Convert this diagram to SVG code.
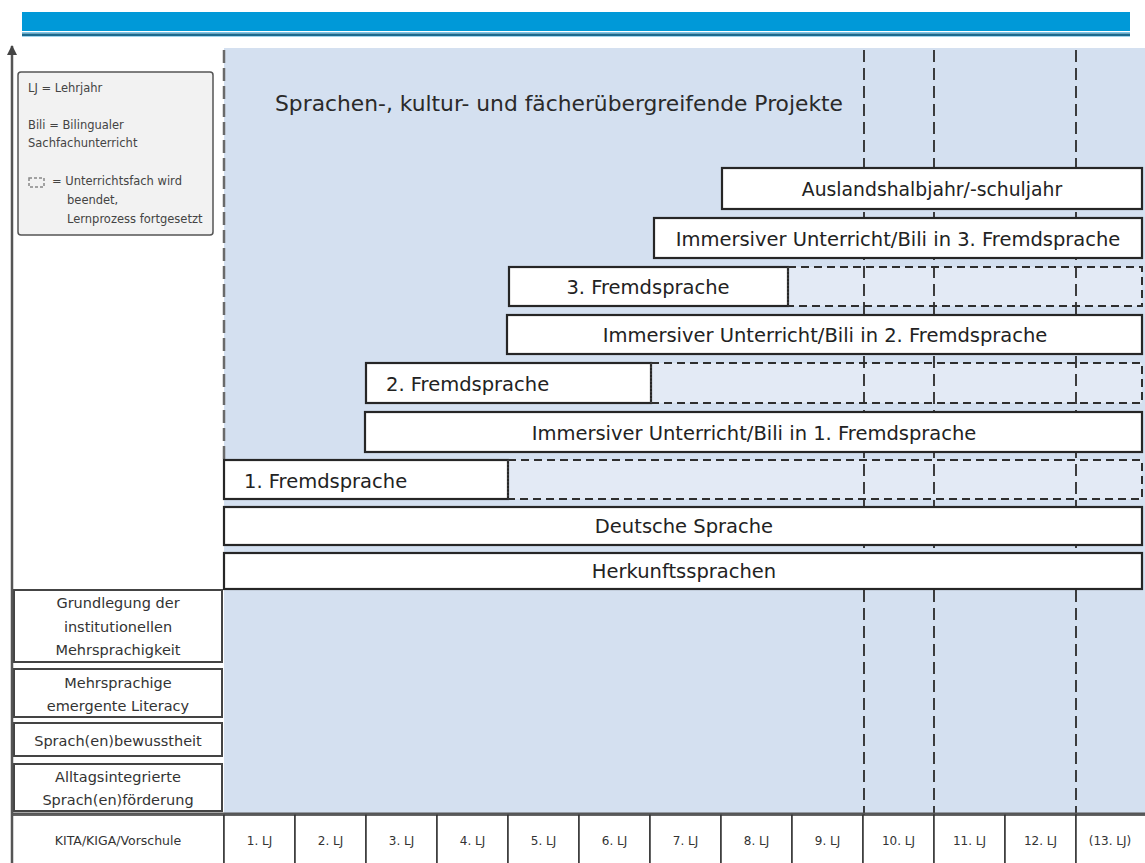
<svg xmlns="http://www.w3.org/2000/svg" width="1145" height="863" viewBox="0 0 1145 863">
<defs>
<style>
text { font-family: "DejaVu Sans", "Liberation Sans", sans-serif; }
.bar { fill:#ffffff; stroke:#262626; stroke-width:2.2; }
.cont { fill:#E3EAF5; stroke:none; }
.contb { fill:none; stroke:#2e2e2e; stroke-width:2; stroke-dasharray:8 5; }
.sep { fill:none; stroke:#555; stroke-width:1; stroke-dasharray:1.5 2; }
.lbl { font-size:19.5px; fill:#222; }
.mid { text-anchor:middle; }
.col { fill:none; stroke:#2b2b2b; stroke-width:1.8; stroke-dasharray:12 6; }
.side { fill:#ffffff; stroke:#444; stroke-width:2; }
.stxt { font-size:14.5px; fill:#333; text-anchor:middle; }
.leg { font-size:11.5px; fill:#444; }
.cell { fill:#ffffff; stroke:#333; stroke-width:1.5; }
.ctxt { font-size:12px; fill:#333; text-anchor:middle; }
</style>
<marker id="arrow" markerWidth="10" markerHeight="10" refX="9" refY="5" orient="auto" markerUnits="userSpaceOnUse">
<path d="M0,0 L10,5 L0,10 z" fill="#444"/>
</marker>
</defs>

<!-- header bar -->
<g id="header">
<rect x="22" y="12" width="1108" height="19" fill="#0099D8"/>
<rect x="22" y="32" width="1108" height="1.5" fill="#7cc7ea"/>
<rect x="22" y="33.5" width="1108" height="2.5" fill="#1c6a8e"/>
<rect x="22" y="36" width="1108" height="1" fill="#9fd3ee"/>
</g>

<!-- background area -->
<g id="background">
<rect x="224" y="48" width="921" height="767" fill="#D4E0F0"/>
</g>

<!-- continuation (dashed) fills -->
<g id="continuations-fill">
<rect class="cont" x="788" y="267" width="354" height="39"/>
<rect class="cont" x="651" y="363" width="491" height="40"/>
<rect class="cont" x="508" y="460" width="634" height="39"/>
</g>

<!-- grid lines -->
<g id="grid">
<line x1="224" y1="50" x2="224" y2="460" style="fill:none;stroke:#6a6a6a;stroke-width:2.5;stroke-dasharray:13 5"/>
<line class="col" x1="864" y1="50" x2="864" y2="815"/>
<line class="col" x1="934" y1="50" x2="934" y2="815"/>
<line class="col" x1="1076" y1="50" x2="1076" y2="815"/>
</g>

<g id="title">
<text x="275" y="111" style="font-size:21.8px;fill:#2a2a2a">Sprachen-, kultur- und fächerübergreifende Projekte</text>
</g>

<g id="legend">
<rect x="18" y="72" width="195" height="163" rx="3" fill="#F2F2F2" stroke="#555" stroke-width="1.5"/>
<text class="leg" x="28" y="92">LJ = Lehrjahr</text>
<text class="leg" x="28" y="129">Bili = Bilingualer</text>
<text class="leg" x="28" y="147">Sachfachunterricht</text>
<rect x="29" y="178" width="15" height="9" fill="none" stroke="#888" stroke-width="1.5" stroke-dasharray="3 2"/>
<text class="leg" x="52" y="185">= Unterrichtsfach wird</text>
<text class="leg" x="67" y="204">beendet,</text>
<text class="leg" x="67" y="223">Lernprozess fortgesetzt</text>
</g>

<g id="ausland">
<rect class="bar" x="722" y="168" width="420" height="41"/>
<text class="lbl mid" x="932" y="196" style="font-size:18.8px">Auslandshalbjahr/-schuljahr</text>
</g>

<g id="immersiv3">
<rect class="bar" x="654" y="218" width="488" height="40"/>
<text class="lbl mid" x="898" y="245.5">Immersiver Unterricht/Bili in 3. Fremdsprache</text>
</g>

<g id="fremdsprache3">
<rect class="bar" x="509" y="267" width="279" height="39"/>
<path class="contb" d="M788,267 H1142 V306 H788"/>
<line class="sep" x1="788" y1="267" x2="788" y2="306"/>
<text class="lbl mid" x="648" y="294">3. Fremdsprache</text>
</g>

<g id="immersiv2">
<rect class="bar" x="507" y="315" width="635" height="39"/>
<text class="lbl mid" x="825" y="342">Immersiver Unterricht/Bili in 2. Fremdsprache</text>
</g>

<g id="fremdsprache2">
<rect class="bar" x="366" y="363" width="285" height="40"/>
<path class="contb" d="M651,363 H1142 V403 H651"/>
<line class="sep" x1="651" y1="363" x2="651" y2="403"/>
<text class="lbl" x="386" y="390.5">2. Fremdsprache</text>
</g>

<g id="immersiv1">
<rect class="bar" x="365" y="412" width="777" height="40"/>
<text class="lbl mid" x="754" y="439.5">Immersiver Unterricht/Bili in 1. Fremdsprache</text>
</g>

<g id="fremdsprache1">
<rect class="bar" x="224" y="460" width="284" height="39"/>
<path class="contb" d="M508,460 H1142 V499 H508"/>
<line class="sep" x1="508" y1="460" x2="508" y2="499"/>
<text class="lbl" x="244" y="487.5">1. Fremdsprache</text>
</g>

<g id="deutsch">
<rect class="bar" x="224" y="507" width="918" height="38"/>
<text class="lbl mid" x="684" y="533">Deutsche Sprache</text>
</g>

<g id="herkunft">
<rect class="bar" x="224" y="553" width="918" height="36"/>
<text class="lbl mid" x="684" y="578">Herkunftssprachen</text>
</g>

<g id="grundlegung">
<rect class="side" x="14" y="590" width="208" height="72"/>
<text class="stxt" x="118" y="608">Grundlegung der</text>
<text class="stxt" x="118" y="632">institutionellen</text>
<text class="stxt" x="118" y="655">Mehrsprachigkeit</text>
</g>

<g id="literacy">
<rect class="side" x="14" y="669" width="208" height="48"/>
<text class="stxt" x="118" y="688">Mehrsprachige</text>
<text class="stxt" x="118" y="711">emergente Literacy</text>
</g>

<g id="bewusstheit">
<rect class="side" x="14" y="723" width="208" height="33"/>
<text class="stxt" x="118" y="746">Sprach(en)bewusstheit</text>
</g>

<g id="foerderung">
<rect class="side" x="14" y="764" width="208" height="47"/>
<text class="stxt" x="118" y="782">Alltagsintegrierte</text>
<text class="stxt" x="118" y="805">Sprach(en)förderung</text>
</g>

<g id="timeline">
<rect class="cell" x="12" y="815" width="212" height="60"/>
<text class="ctxt" x="118" y="845" style="font-size:12.5px">KITA/KIGA/Vorschule</text>
<rect class="cell" x="224" y="815" width="71" height="60"/>
<rect class="cell" x="295" y="815" width="71" height="60"/>
<rect class="cell" x="366" y="815" width="71" height="60"/>
<rect class="cell" x="437" y="815" width="71" height="60"/>
<rect class="cell" x="508" y="815" width="71" height="60"/>
<rect class="cell" x="579" y="815" width="71" height="60"/>
<rect class="cell" x="650" y="815" width="71" height="60"/>
<rect class="cell" x="721" y="815" width="71" height="60"/>
<rect class="cell" x="792" y="815" width="71" height="60"/>
<rect class="cell" x="863" y="815" width="71" height="60"/>
<rect class="cell" x="934" y="815" width="71" height="60"/>
<rect class="cell" x="1005" y="815" width="71" height="60"/>
<rect class="cell" x="1076" y="815" width="71" height="60"/>
<line x1="12" y1="813.5" x2="1145" y2="813.5" stroke="#555" stroke-width="2"/>
<text class="ctxt" x="259.5" y="845">1. LJ</text>
<text class="ctxt" x="330.5" y="845">2. LJ</text>
<text class="ctxt" x="401.5" y="845">3. LJ</text>
<text class="ctxt" x="472.5" y="845">4. LJ</text>
<text class="ctxt" x="543.5" y="845">5. LJ</text>
<text class="ctxt" x="614.5" y="845">6. LJ</text>
<text class="ctxt" x="685.5" y="845">7. LJ</text>
<text class="ctxt" x="756.5" y="845">8. LJ</text>
<text class="ctxt" x="827.5" y="845">9. LJ</text>
<text class="ctxt" x="898.5" y="845">10. LJ</text>
<text class="ctxt" x="969.5" y="845">11. LJ</text>
<text class="ctxt" x="1040.5" y="845">12. LJ</text>
<text class="ctxt" x="1110" y="845">(13. LJ)</text>
</g>

<g id="connectors">
<line x1="12" y1="863" x2="12" y2="46" stroke="#555" stroke-width="2.5" marker-end="url(#arrow)"/>
</g>
</svg>
